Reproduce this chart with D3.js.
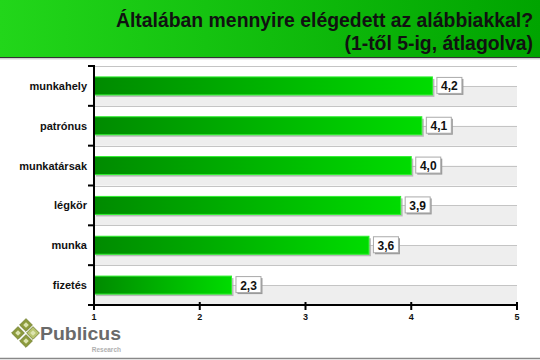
<!DOCTYPE html>
<html>
<head>
<meta charset="utf-8">
<script src="https://cdn.jsdelivr.net/npm/d3@7"></script>
<style>
  body { margin: 0; background: #fff; }
  svg { display: block; font-family: "Liberation Sans", Arial, sans-serif; }
</style>
</head>
<body>
<div id="chart"></div>
<script>
const categories = ["munkahely", "patrónus", "munkatársak", "légkör", "munka", "fizetés"];
const values = [4.2, 4.1, 4.0, 3.9, 3.6, 2.3];
const labels = ["4,2", "4,1", "4,0", "3,9", "3,6", "2,3"];
const xTicks = [1, 2, 3, 4, 5];
const titleLines = ["Általában mennyire elégedett az alábbiakkal?", "(1-től 5-ig, átlagolva)"];

const width = 540, height = 360;
const plotL = 94, plotR = 517, plotT = 66, plotB = 305;

const svg = d3.select("#chart").append("svg")
  .attr("width", width)
  .attr("height", height);

const defs = svg.append("defs");
const hg = defs.append("linearGradient").attr("id", "head");
hg.append("stop").attr("offset", "0%").attr("stop-color", "#22d61a");
hg.append("stop").attr("offset", "100%").attr("stop-color", "#00a400");
const bg = defs.append("linearGradient").attr("id", "bar");
bg.append("stop").attr("offset", "0%").attr("stop-color", "#008a00");
bg.append("stop").attr("offset", "100%").attr("stop-color", "#00dc00");

// header
svg.append("rect").attr("x", 0).attr("y", 0).attr("width", width).attr("height", 57)
  .attr("fill", "url(#head)");
svg.append("line").attr("x1", 0).attr("x2", width).attr("y1", 57.5).attr("y2", 57.5)
  .attr("stroke", "#333").attr("stroke-width", 1.2);
svg.append("line").attr("x1", 0).attr("x2", width).attr("y1", 58.8).attr("y2", 58.8)
  .attr("stroke", "#bbb").attr("stroke-width", 1);

svg.selectAll(".title").data(titleLines).enter().append("text")
  .attr("x", 533).attr("y", (d, i) => 27 + i * 23)
  .attr("text-anchor", "end")
  .attr("font-size", 19.4).attr("font-weight", "bold").attr("fill", "#111")
  .text(d => d);

const x = d3.scaleLinear().domain([1, 5]).range([plotL, plotR]);
const y = d3.scaleBand().domain(categories).range([plotT, plotB]);

// stripes: upper half white, lower half grey
const g = svg.append("g");
g.selectAll(".stripe").data(categories).enter().append("rect")
  .attr("x", plotL).attr("y", d => y(d) + y.bandwidth() / 2)
  .attr("width", plotR - plotL).attr("height", y.bandwidth() / 2)
  .attr("fill", "#eeeeee");
const gridYs = [];
categories.forEach(c => { gridYs.push(y(c)); gridYs.push(y(c) + y.bandwidth() / 2); });
g.selectAll(".grid").data(gridYs).enter().append("line")
  .attr("x1", plotL).attr("x2", plotR)
  .attr("y1", d => Math.round(d) + 0.5).attr("y2", d => Math.round(d) + 0.5)
  .attr("stroke", "#c4c4c4").attr("stroke-width", 1);

// bars
const barH = 18;
const bars = g.selectAll(".bar").data(categories).enter().append("g");
bars.append("rect")
  .attr("x", plotL + 2).attr("y", d => y(d) + y.bandwidth() / 2 - barH / 2 + 2)
  .attr("width", (d, i) => x(values[i]) - plotL).attr("height", barH)
  .attr("fill", "#aaa").attr("opacity", 0.8);
bars.append("rect")
  .attr("x", plotL).attr("y", d => y(d) + y.bandwidth() / 2 - barH / 2)
  .attr("width", (d, i) => x(values[i]) - plotL).attr("height", barH)
  .attr("fill", "url(#bar)").attr("stroke", "#2ef02e").attr("stroke-width", 1);

// value boxes
const boxW = 25, boxH = 16;
bars.append("rect")
  .attr("x", (d, i) => x(values[i]) + 6).attr("y", d => y(d) + y.bandwidth() / 2 - boxH / 2 + 1)
  .attr("width", boxW).attr("height", boxH).attr("fill", "#999");
bars.append("rect")
  .attr("x", (d, i) => x(values[i]) + 4.5).attr("y", d => y(d) + y.bandwidth() / 2 - boxH / 2 - 0.5)
  .attr("width", boxW).attr("height", boxH)
  .attr("fill", "#fff").attr("stroke", "#aaa").attr("stroke-width", 1);
bars.append("text")
  .attr("x", (d, i) => x(values[i]) + 4.5 + boxW / 2).attr("y", d => y(d) + y.bandwidth() / 2 + 4.5)
  .attr("text-anchor", "middle").attr("font-size", 12).attr("font-weight", "bold").attr("fill", "#111")
  .text((d, i) => labels[i]);

// axes
const ax = svg.append("g");
ax.selectAll(".ylab").data(categories).enter().append("text")
  .attr("x", 87).attr("y", d => y(d) + y.bandwidth() / 2 + 4)
  .attr("text-anchor", "end").attr("font-size", 11).attr("font-weight", "bold").attr("fill", "#111")
  .text(d => d);
const yTickPos = categories.map(c => y(c)).concat([plotB]);
ax.selectAll(".ytick").data(yTickPos).enter().append("line")
  .attr("x1", plotL - 6).attr("x2", plotL)
  .attr("y1", d => d).attr("y2", d => d)
  .attr("stroke", "#000").attr("stroke-width", 2);
ax.append("line").attr("x1", plotL).attr("x2", plotL).attr("y1", plotT - 1).attr("y2", plotB + 1)
  .attr("stroke", "#000").attr("stroke-width", 2);
ax.append("line").attr("x1", plotL - 1).attr("x2", plotR + 1).attr("y1", plotB).attr("y2", plotB)
  .attr("stroke", "#000").attr("stroke-width", 2);
ax.selectAll(".xtick").data(xTicks).enter().append("line")
  .attr("x1", d => x(d)).attr("x2", d => x(d))
  .attr("y1", plotB - 3).attr("y2", plotB + 5)
  .attr("stroke", "#000").attr("stroke-width", 2);
ax.selectAll(".xlab").data(xTicks).enter().append("text")
  .attr("x", d => x(d)).attr("y", plotB + 15)
  .attr("text-anchor", "middle").attr("font-size", 9).attr("font-weight", "bold").attr("fill", "#111")
  .text(d => d);

// bottom line
svg.append("line").attr("x1", 0).attr("x2", width).attr("y1", 358.5).attr("y2", 358.5)
  .attr("stroke", "#888").attr("stroke-width", 1.5);

// logo
const logo = svg.append("g");
const dia = [[18, 333], [26, 325], [26, 341], [33, 333]];
logo.selectAll(".dia").data(dia).enter().append("rect")
  .attr("x", -4.5).attr("y", -4.5).attr("width", 9).attr("height", 9)
  .attr("transform", d => `translate(${d[0]},${d[1]}) rotate(45)`)
  .attr("fill", (d, i) => i === 3 ? "#b8c470" : "#8c9a3c")
  .attr("stroke", "#6e7c2a").attr("stroke-width", 0.8);
logo.selectAll(".dia-in").data(dia).enter().append("rect")
  .attr("x", -2).attr("y", -2).attr("width", 4).attr("height", 4)
  .attr("transform", d => `translate(${d[0]},${d[1]}) rotate(45)`)
  .attr("fill", "#dde4b0");
logo.append("text").attr("x", 40).attr("y", 340)
  .attr("font-size", 19).attr("font-weight", "bold").attr("fill", "#6a6a6a")
  .attr("textLength", 81).attr("lengthAdjust", "spacingAndGlyphs")
  .text("Publicus");
logo.append("text").attr("x", 121).attr("y", 352)
  .attr("text-anchor", "end")
  .attr("font-size", 6.5).attr("font-weight", "bold").attr("fill", "#b0b0b0")
  .text("Research");
</script>
</body>
</html>
